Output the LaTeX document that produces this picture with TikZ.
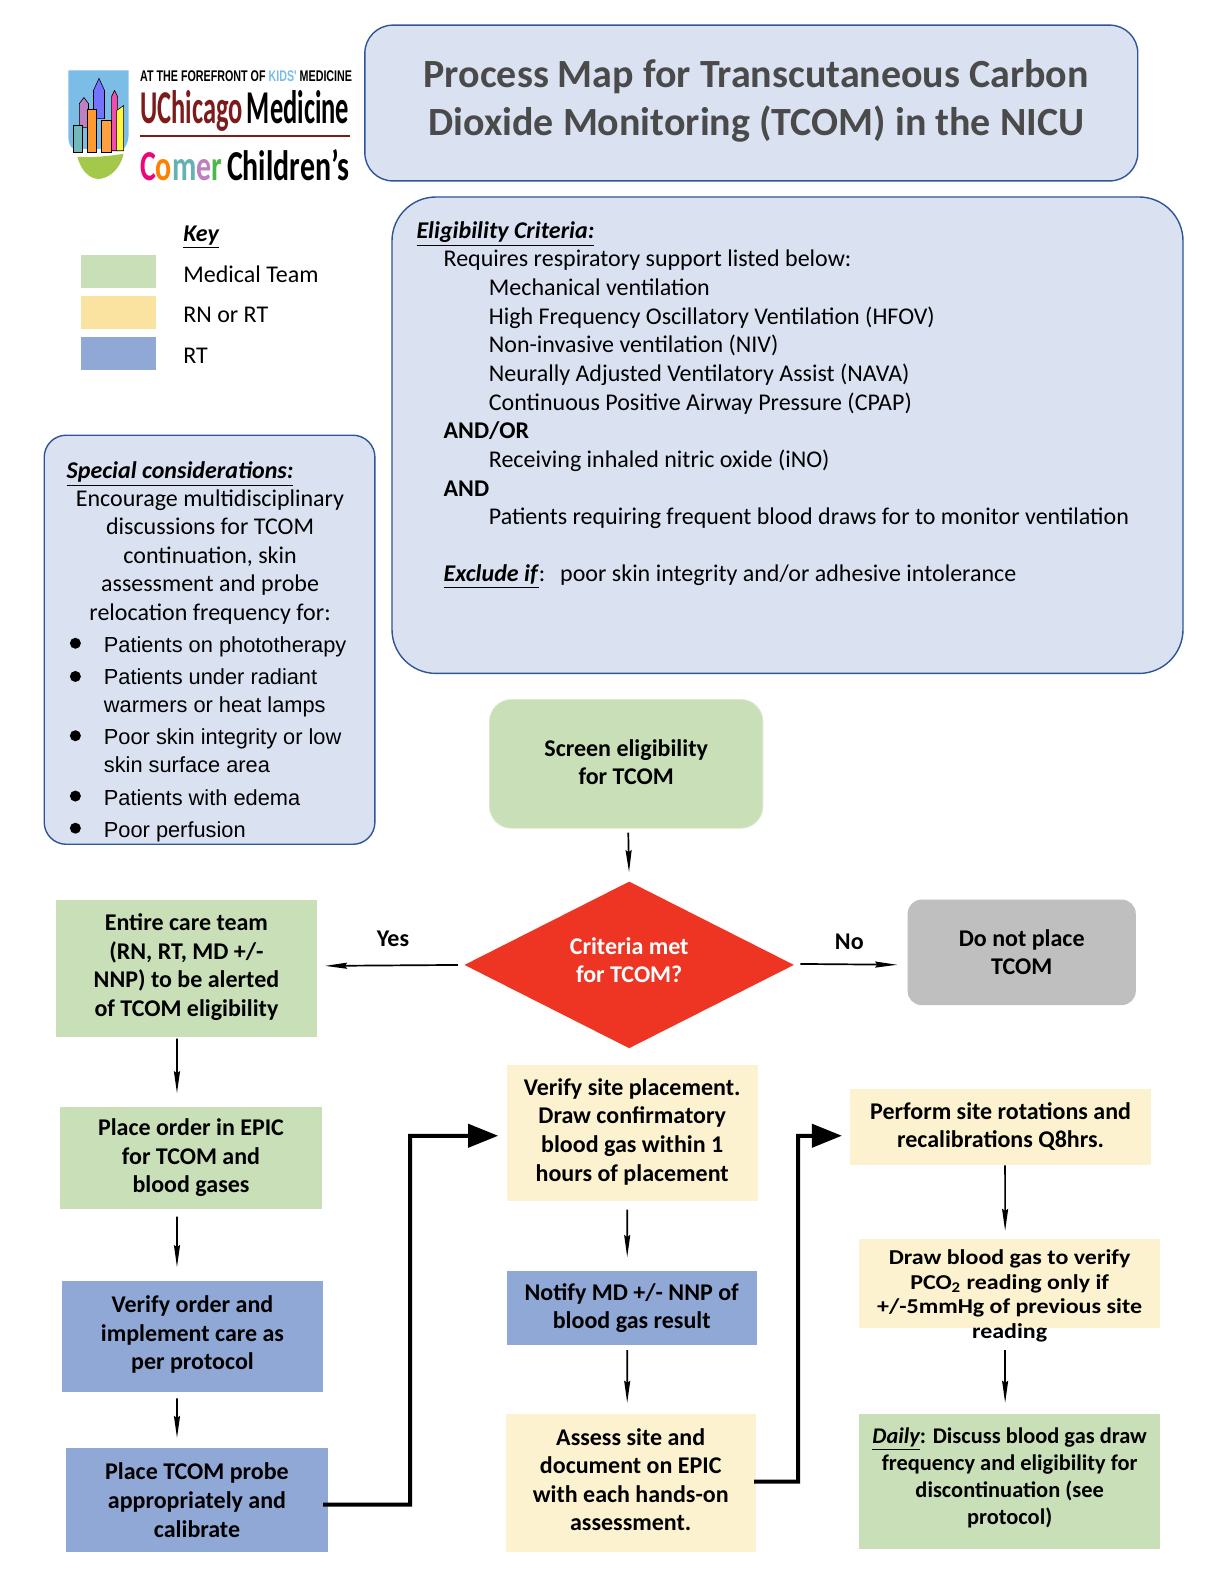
\documentclass[tikz,border=0pt]{standalone}
\usepackage{fontspec}
\usepackage{graphicx}
\setmainfont{Carlito}
\newfontfamily\bulletfont{Liberation Sans}
\newfontfamily\widefont[FakeStretch=1.13]{Carlito}
\usetikzlibrary{arrows.meta,shapes.geometric}

\definecolor{medgreen}{HTML}{C9DFB7}
\definecolor{rnyellow}{HTML}{FAE3A0}
\definecolor{paleyellow}{HTML}{FDF2CF}
\definecolor{rtblue}{HTML}{8FA8D6}
\definecolor{panelblue}{HTML}{DAE2F2}
\definecolor{paneledge}{HTML}{2F5597}
\definecolor{titlegray}{HTML}{4A4A4A}
\definecolor{stopred}{HTML}{EE3524}
\definecolor{nogray}{HTML}{BFBFBF}
\definecolor{logored}{HTML}{7D1A1A}
\definecolor{logosky}{HTML}{7CBDE8}
\definecolor{logohill}{HTML}{A4C94A}

\newcommand{\liftrow}{\\[-10.8pt]}

\tikzset{
  sized/.style 2 args={minimum width=#1*0.50255pt,minimum height=#2*0.50255pt},
  stepbox/.style={rectangle,inner sep=0pt,align=center,
    font=\fontsize{12}{14.3}\selectfont\bfseries},
  medbox/.style={stepbox,fill=medgreen},
  rnbox/.style={stepbox,fill=paleyellow},
  rtbox/.style={stepbox,fill=rtblue},
  panelbox/.style={rectangle,draw=paneledge,fill=panelblue,line width=0.7pt,inner sep=0pt},
  bodytext/.style={anchor=base west,inner sep=0pt,font=\fontsize{12}{14.3}\selectfont},
  bullettext/.style={anchor=base west,inner sep=0pt,align=left,
    font=\bulletfont\fontsize{10.9}{14}\selectfont},
  bulletdot/.style={circle,fill=black,inner sep=0pt,minimum size=5.5pt},
  keybox/.style={rectangle,inner sep=0pt},
  tower/.style={draw=black,line width=0.3pt},
  thinarrow/.style={line width=0.85pt,-{Stealth[length=11pt,width=3pt,inset=1pt]}},
  thickarrow/.style={line width=2pt,-{Triangle[length=15pt,width=11.5pt]}}
}

\begin{document}
\begin{tikzpicture}[x=0.50255pt,y=-0.50255pt]
  \useasboundingbox (0,0) rectangle (1209.8,1568);

  % Logo
  \fill[logosky] (68,70) -- (128,70) -- (128,135) .. controls (127,144) and (124,148) .. (122,148)
    -- (74,148) .. controls (71,148) and (68,144) .. (68,135) -- cycle;
  \fill[logohill] (77,156) .. controls (95,157) and (110,155) .. (123,153)
    .. controls (120,168) and (108,178) .. (98,178) .. controls (88,178) and (80,168) .. (77,156) -- cycle;
  \draw[tower,fill=blue!55!white] (93,118) -- (93,90) -- (98.5,78) -- (104,90) -- (104,118) -- cycle;
  \draw[tower,fill=violet!50] (79,127) -- (79,103) -- (83.5,97) -- (88,103) -- (88,127) -- cycle;
  \draw[tower,fill=magenta!70] (111,150) -- (111,96) -- (114,90) -- (117,96) -- (117,150) -- cycle;
  \draw[tower,fill=teal!55] (73,125) rectangle (82,152);
  \draw[tower,fill=orange!80] (87,109) rectangle (96,152);
  \draw[tower,fill=orange!75] (101,120) rectangle (111,152);
  \draw[tower,fill=yellow!75] (116,150) -- (116,110) -- (123,105) -- (123,150) -- cycle;

  \node[anchor=west,inner sep=0pt] (logotop) at (139,76) {\resizebox{106pt}{5.4pt}{\bulletfont\bfseries AT THE FOREFRONT OF \textcolor{logosky}{KIDS'} MEDICINE}};
  \node[anchor=west,inner sep=0pt] (logomid) at (139,110) {\resizebox{104.5pt}{16.5pt}{\textbf{\textcolor{logored}{UChicago}\,Medicine}}};
  \draw[logored,line width=0.7pt] (139,135.5) -- (348,135.5);
  \node[anchor=west,inner sep=0pt] (logolow) at (139,164) {\resizebox{104.5pt}{15.5pt}{\textbf{\textcolor{magenta!80!red}{C}\textcolor{orange}{o}\textcolor{teal!60}{m}\textcolor{violet!50}{e}\textcolor{green!60!black!70}{r}\,Children's}}};

  % Title
  \node[panelbox,sized={769}{155},rounded corners=14pt,text=titlegray,align=center,
    font=\fontsize{20}{24}\selectfont\bfseries] (title) at (747.5,102.5)
    {\hspace*{5pt}Process Map for Transcutaneous Carbon\\\hspace*{5pt}Dioxide Monitoring (TCOM) in the NICU\\[-18.5pt]};

  % Key
  \node[bodytext] (keyhead) at (182,240) {\underline{\textbf{\textit{Key}}}};
  \node[keybox,fill=medgreen,sized={75}{33}] (keymed) at (118,270.5) {};
  \node[bodytext] (keymedtext) at (182,281) {Medical Team};
  \node[keybox,fill=rnyellow,sized={75}{33}] (keyrn) at (118,311) {};
  \node[bodytext] (keyrntext) at (182,321) {RN or RT};
  \node[keybox,fill=rtblue,sized={75}{33}] (keyrt) at (118,352) {};
  \node[bodytext] (keyrttext) at (182,362) {RT};

  % Eligibility criteria
  \node[panelbox,sized={787}{474},rounded corners=22pt] (eligpanel) at (783.5,433) {};
  \node[bodytext] (elighead) at (414,237) {\underline{\textbf{\textit{Eligibility Criteria:}}}};
  \node[bodytext] (elig1) at (441,265.5) {Requires respiratory support listed below:};
  \node[bodytext] (elig2) at (486,294) {Mechanical ventilation};
  \node[bodytext] (elig3) at (486,322.5) {High Frequency Oscillatory Ventilation (HFOV)};
  \node[bodytext] (elig4) at (486,351) {Non-invasive ventilation (NIV)};
  \node[bodytext] (elig5) at (486,379.5) {Neurally Adjusted Ventilatory Assist (NAVA)};
  \node[bodytext] (elig6) at (486,408) {Continuous Positive Airway Pressure (CPAP)};
  \node[bodytext] (elig7) at (441,436.5) {\textbf{AND/OR}};
  \node[bodytext] (elig8) at (486,465) {Receiving inhaled nitric oxide (iNO)};
  \node[bodytext] (elig9) at (441,493.5) {\textbf{AND}};
  \node[bodytext] (elig10) at (486,522) {Patients requiring frequent blood draws for to monitor ventilation};
  \node[bodytext] (elig11) at (441,579) {\underline{\textbf{\textit{Exclude if}}}:};
  \node[bodytext] (elig12) at (557,579) {poor skin integrity and/or adhesive intolerance};

  % Special considerations
  \node[panelbox,sized={329}{407},rounded corners=11pt] (specpanel) at (208.5,636.5) {};
  \node[bodytext] (spechead) at (66,476) {\underline{\textbf{\textit{Special considerations:}}}};
  \node[inner sep=0pt,align=center,anchor=north,font=\fontsize{12}{14.3}\selectfont] (specbody) at (209,486.5)
    {Encourage multidisciplinary\\discussions for TCOM\\continuation, skin\\assessment and probe\\relocation frequency for:};
  \node[bulletdot] (dot1) at (75,640) {};
  \node[bullettext] (spec1) at (103,649) {Patients on phototherapy};
  \node[bulletdot] (dot2) at (75,673) {};
  \node[bullettext,anchor=west] (spec2) at (103,689) {Patients under radiant\\warmers or heat lamps};
  \node[bulletdot] (dot3) at (75,732) {};
  \node[bullettext,anchor=west] (spec3) at (103,746.5) {Poor skin integrity or low\\skin surface area};
  \node[bulletdot] (dot4) at (75,792) {};
  \node[bullettext] (spec4) at (103,801) {Patients with edema};
  \node[bulletdot] (dot5) at (75,824) {};
  \node[bullettext] (spec5) at (103,833) {Poor perfusion};

  % Decision
  \node[medbox,sized={272}{128},rounded corners=11pt,draw=medgreen!70!white] (screen) at (623,760)
    {Screen eligibility\\for TCOM\\[-12.3pt]};
  \node[diamond,aspect=1.976,fill=stopred,text=white,inner sep=0pt,sized={328}{166},align=center,
    font=\fontsize{12}{14.3}\selectfont\bfseries] (criteria) at (626,960)
    {Criteria met\\for TCOM?\\[-9.3pt]};
  \node[stepbox,fill=nogray,sized={227}{105},rounded corners=7pt] (noplace) at (1016.5,947.5)
    {Do not place\\TCOM};
  \node[inner sep=0pt,font=\fontsize{12}{14.3}\selectfont\bfseries] (yeslabel) at (391,934) {Yes};
  \node[inner sep=0pt,font=\fontsize{12}{14.3}\selectfont\bfseries] (nolabel) at (845,937) {No};

  % Left column
  \node[medbox,sized={259}{137}] (care) at (185.5,963.5)
    {Entire care team\\(RN, RT, MD +/-\\NNP) to be alerted\\of TCOM eligibility\liftrow};
  \node[medbox,sized={260}{102}] (order) at (190,1152)
    {Place order in EPIC\\for TCOM and\\blood gases};
  \node[rtbox,sized={259}{111}] (verify) at (191.5,1329.5)
    {Verify order and\\implement care as\\per protocol\liftrow};
  \node[rtbox,sized={260}{103}] (probe) at (196,1492.5)
    {Place TCOM probe\\appropriately and\\calibrate};

  % Middle column
  \node[rnbox,sized={250}{135}] (site) at (629,1127.5)
    {Verify site placement.\\Draw confirmatory\\blood gas within 1\\hours of placement\liftrow};
  \node[rtbox,sized={249}{73}] (notify) at (628.5,1301.5)
    {Notify MD +/- NNP of\\blood gas result};
  \node[rnbox,sized={249}{137}] (assess) at (627.5,1475.5)
    {Assess site and\\document on EPIC\\with each hands-on\\assessment.\liftrow};

  % Right column
  \node[rnbox,sized={299}{76}] (rotate) at (995.5,1121)
    {Perform site rotations and\\recalibrations Q8hrs.};
  \node[stepbox,fill=paleyellow,sized={299}{88},text depth=0pt,
    font=\widefont\fontsize{10.6}{12.25}\selectfont\bfseries] (draw) at (1004.5,1277)
    {\raisebox{-27.5pt}[0pt][0pt]{\shortstack{Draw blood gas to verify\\[0.1pt]PCO\textsubscript{2} reading only if\\[0.1pt]+/-5mmHg of previous site\\[0.1pt]reading}}};
  \node[medbox,sized={299}{134},font=\fontsize{11.2}{13.5}\selectfont\bfseries] (daily) at (1004.5,1474)
    {\textit{\underline{Daily}}: Discuss blood gas draw\\frequency and eligibility for\\discontinuation (see\\protocol)\\[-8pt]};

  % Connectors
  \draw[thinarrow,shorten <=2pt,shorten >=4.5pt] ([xshift=1pt]screen.south) -- (criteria.north);
  \draw[thinarrow,shorten <=3pt,shorten >=5pt] ([yshift=0.5pt]criteria.east) -- ([yshift=-6.25pt]noplace.west);
  \draw[thinarrow,shorten <=3pt,shorten >=4pt] (criteria.west) -- ([yshift=1.25pt]care.east);
  \draw[thinarrow,shorten <=0.5pt,shorten >=6.5pt] ([xshift=-4.75pt]care.south) -- ([xshift=-7pt]order.north);
  \draw[thinarrow,shorten <=3.5pt,shorten >=6.5pt] ([xshift=-7pt]order.south) -- ([xshift=-7.75pt]verify.north);
  \draw[thinarrow,shorten <=3pt,shorten >=5pt] ([xshift=-7.75pt]verify.south) -- ([xshift=-10pt]probe.north);
  \draw[thinarrow,shorten <=4pt,shorten >=7pt] ([xshift=-2.5pt]site.south) -- ([xshift=-2.25pt]notify.north);
  \draw[thinarrow,shorten <=2.5pt,shorten >=5.5pt] ([xshift=-2.25pt]notify.south) -- ([xshift=-1.75pt]assess.north);
  \draw[thickarrow,shorten <=-2.5pt,shorten >=4pt] ([yshift=-2.25pt]probe.east) -| (408,1130) -- ([yshift=-1.25pt]site.west);
  \draw[thinarrow,shorten >=4pt] ([xshift=2.25pt]rotate.south) -- ([xshift=-2.25pt]draw.north);
  \draw[thinarrow,shorten <=11pt,shorten >=5.5pt] ([xshift=-2.25pt]draw.south) -- ([xshift=-2.25pt]daily.north);
  \draw[thickarrow,shorten <=-1pt,shorten >=4pt] ([yshift=0.75pt]assess.east) -| (794,1130) -- ([yshift=-4.5pt]rotate.west);
\end{tikzpicture}
\end{document}
